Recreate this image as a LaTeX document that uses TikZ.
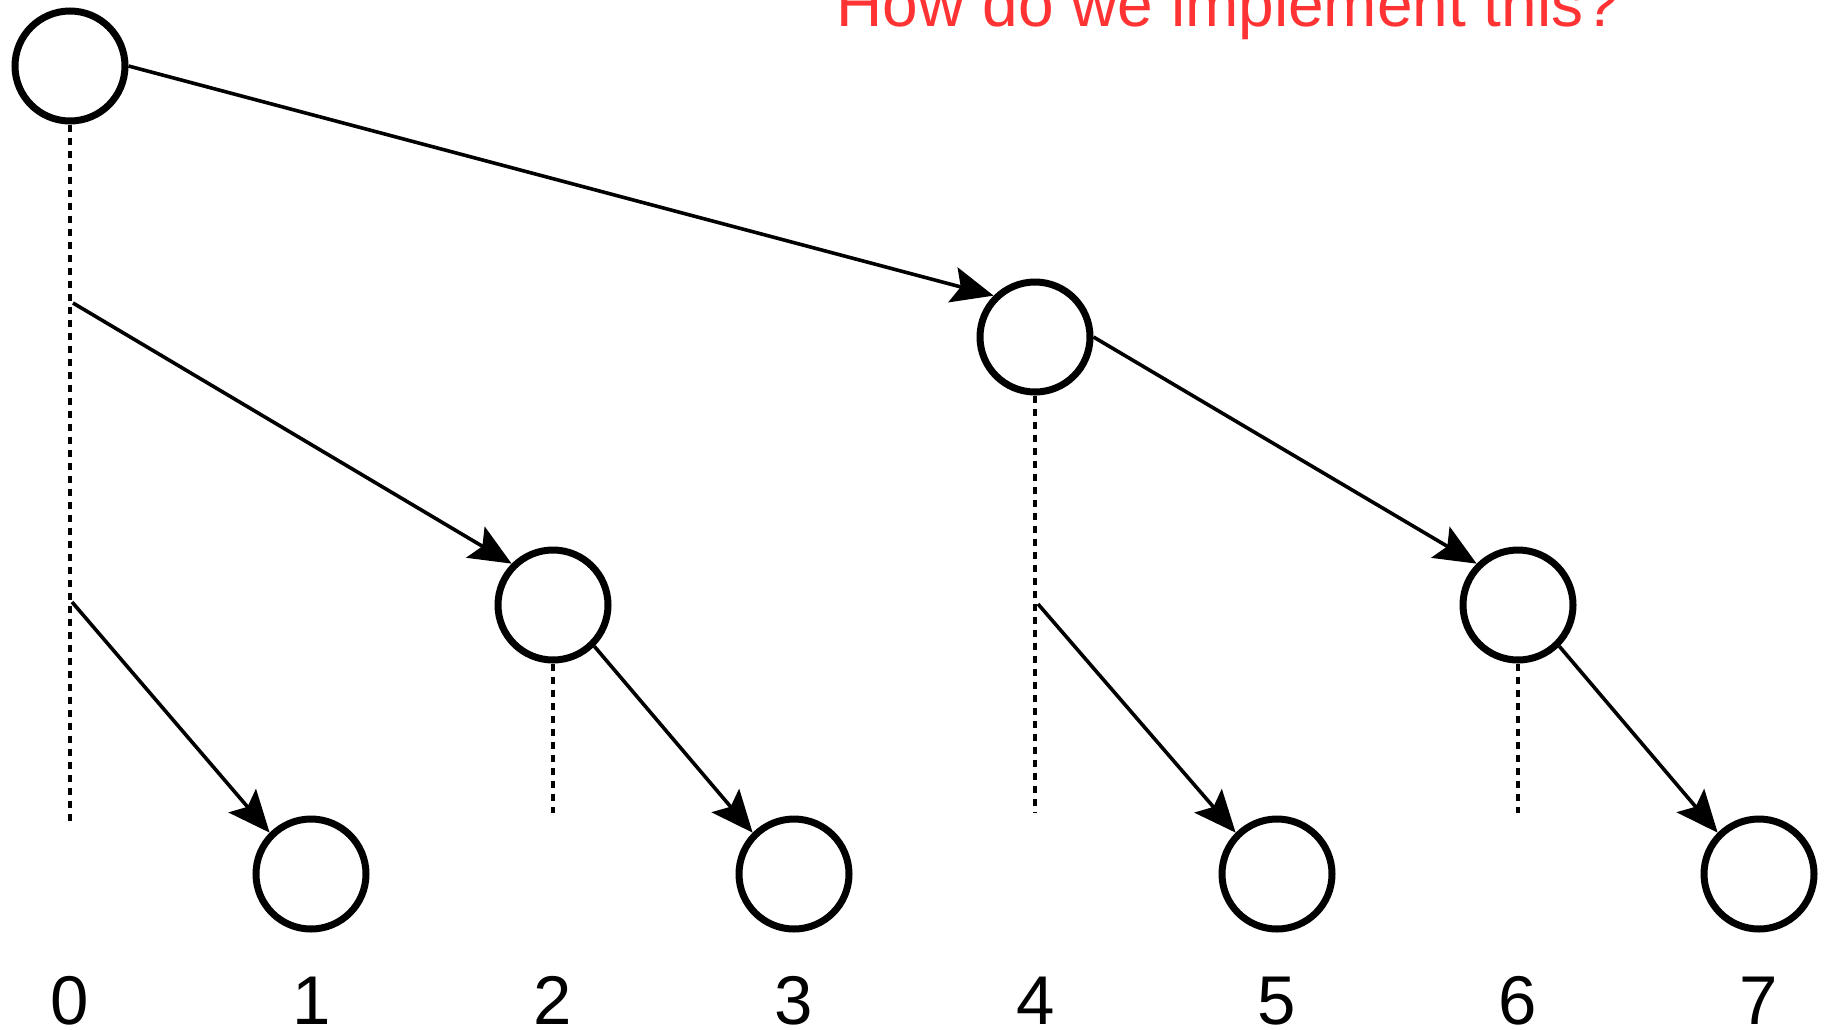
\documentclass[tikz,border=0pt]{standalone}
\usepackage{fontspec}
\setmainfont{Liberation Sans}
\usetikzlibrary{arrows.meta}
\definecolor{titlered}{RGB}{255,51,51}

\begin{document}
\begin{tikzpicture}[x=1pt, y=-1pt,
    vertex/.style={draw, circle, line width=7pt, minimum size=110pt, inner sep=0pt},
    link/.style={line width=3.6pt, -{Stealth[length=42pt, width=36pt, inset=8pt]}},
    guide/.style={line width=3.6pt, dash pattern=on 7pt off 6pt},
    idx/.style={font=\fontsize{69}{83}\selectfont, anchor=base}]
  \useasboundingbox (0,0) rectangle (1828,1029);

  % question
  \node[anchor=base, font=\fontsize{64}{77}\selectfont, text=titlered] (title)
    at (1228,26) {How do we implement this?};

  % tree nodes
  \node[vertex] (t0) at (70,66) {};
  \node[vertex] (t4) at (1035,337) {};
  \node[vertex] (t2) at (553,605) {};
  \node[vertex] (t6) at (1518,605) {};
  \node[vertex] (t1) at (311,874) {};
  \node[vertex] (t3) at (794,874) {};
  \node[vertex] (t5) at (1277,874) {};
  \node[vertex] (t7) at (1759,874) {};

  % dotted guides
  \coordinate (g0) at (70,823);
  \coordinate (g2) at (553,813);
  \coordinate (g4) at (1035,813);
  \coordinate (g6) at (1518,813);
  \draw[guide] (t0.south) -- (g0);
  \draw[guide] (t2.south) -- (g2);
  \draw[guide] (t4.south) -- (g4);
  \draw[guide] (t6.south) -- (g6);

  % branch points on the guides
  \coordinate (b02) at (73,303);
  \coordinate (b01) at (72,602);
  \coordinate (b45) at (1038,604);

  % links
  \draw[link] (t0.east) -- (t4.135);
  \draw[link] (b02) -- (t2.135);
  \draw[link] (b01) -- (t1.135);
  \draw[link] (t2.315) -- (t3.135);
  \draw[link] (t4.east) -- (t6.135);
  \draw[link] (b45) -- (t5.135);
  \draw[link] (t6.315) -- (t7.135);

  % indices
  \foreach \i in {0,...,7}
    \node[idx] (lab\i) at ({70+241.3*\i},1024) {\i};
\end{tikzpicture}
\end{document}
